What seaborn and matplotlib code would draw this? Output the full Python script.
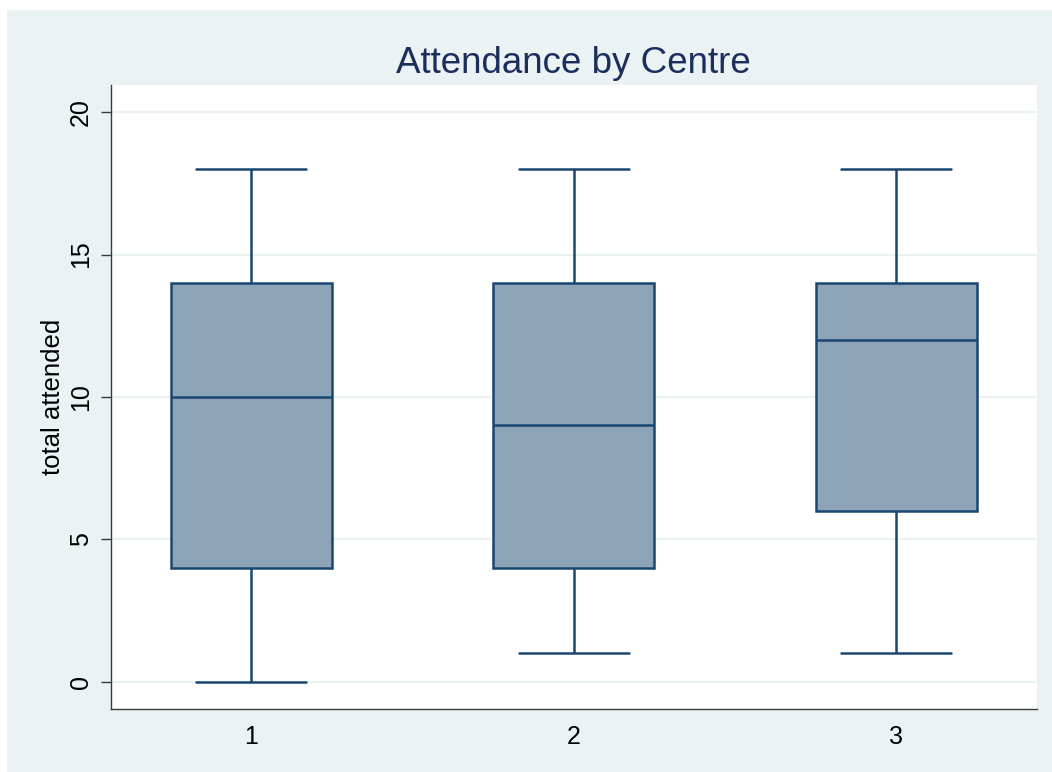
import numpy as np
import pandas as pd
import matplotlib
matplotlib.use("Agg")
import matplotlib.pyplot as plt
from matplotlib.patches import Rectangle
import seaborn as sns

# Five-number summaries of total attendance for each centre
centres = ["1", "2", "3"]
minimums = [0, 1, 1]
lower_quartiles = [4, 4, 6]
medians = [10, 9, 12]
upper_quartiles = [14, 14, 14]
maximums = [18, 18, 18]
y_ticks = [0, 5, 10, 15, 20]

# Long-form table: five observations per centre reproduce the summaries exactly
rows = []
for i, c in enumerate(centres):
    for v in (minimums[i], lower_quartiles[i], medians[i], upper_quartiles[i], maximums[i]):
        rows.append({"centre": c, "total attended": v})
df = pd.DataFrame(rows)

sns.set_theme(style="white")
plt.rcParams["font.family"] = ["Liberation Sans", "DejaVu Sans"]

NAVY = "#1A476F"
FILL = "#8CA3B8"
BG = "#EAF2F3"

fig = plt.figure(figsize=(10.52, 7.72), dpi=100, facecolor="white")
fig.patches.append(Rectangle((7 / 1052, 0), 1, 1 - 10 / 772,
                             transform=fig.transFigure, facecolor=BG,
                             edgecolor="none", zorder=-1))
ax = fig.add_axes([111 / 1052, 1 - 709 / 772, (1036.5 - 111) / 1052, (709 - 85) / 772])
ax.set_facecolor("white")

lw = 1.8
sns.boxplot(
    data=df, x="centre", y="total attended", order=centres, ax=ax,
    width=0.5, whis=1.5, saturation=1, showfliers=False,
    capwidths=0.34,
    boxprops=dict(facecolor=FILL, edgecolor=NAVY, linewidth=lw),
    whiskerprops=dict(color=NAVY, linewidth=lw),
    capprops=dict(color=NAVY, linewidth=lw),
    medianprops=dict(color=NAVY, linewidth=lw),
)

ax.set_xlim(-0.435, 2.435)
ax.set_ylim(-0.95, 20.95)
ax.set_yticks(y_ticks)
ax.set_yticklabels([str(t) for t in y_ticks], rotation=90, va="center")
ax.yaxis.grid(True, color=BG, linewidth=1.6, zorder=0)
ax.set_axisbelow(True)

for side in ("top", "right"):
    ax.spines[side].set_visible(False)
for side in ("left", "bottom"):
    ax.spines[side].set_color("#3A3A3A")
    ax.spines[side].set_linewidth(1.0)

ax.tick_params(axis="y", which="major", left=True, length=7.5, width=1.0,
               color="#3A3A3A", pad=5.5, labelsize=18, labelcolor="black")
ax.tick_params(axis="x", which="major", bottom=False, length=0,
               pad=11.5, labelsize=18, labelcolor="black")

ax.set_xlabel("")
ax.set_ylabel("total attended", fontsize=18.5, color="black", labelpad=3)
ax.set_title("Attendance by Centre", fontsize=26.5, color="#1C2E5C", pad=8.5)

fig.savefig("out.png", dpi=100, facecolor=fig.get_facecolor())
